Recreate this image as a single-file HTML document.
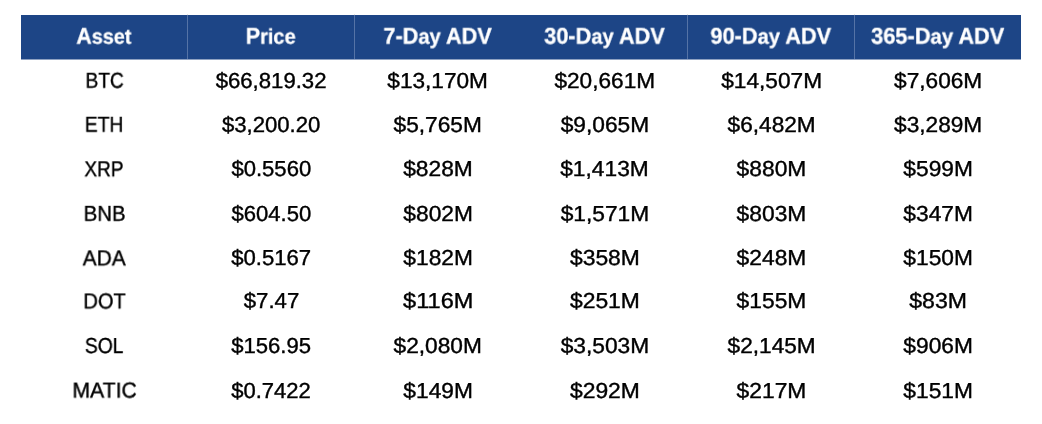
<!DOCTYPE html>
<html><head><meta charset="utf-8"><style>
html,body{margin:0;padding:0;background:#fff;width:1042px;height:424px;overflow:hidden;position:relative}
body{font-family:"Liberation Sans",sans-serif}
.hdr{position:absolute;left:21px;top:15px;width:1000px;height:44px;background:#1d4586;border-bottom:1px solid #8fa2c2}
.tl{position:absolute;left:21px;top:15px;width:1000px;height:1px;background:#1d4586}
.dv{position:absolute;top:15px;width:1px;height:44px;background:#5573a6}
.dt{position:absolute;top:14px;width:1px;height:1px;background:#e4e2df}
span{position:absolute;white-space:nowrap;line-height:1;transform-origin:50% 50%;display:block;text-rendering:geometricPrecision;will-change:transform}
.h{color:#fff;font-weight:bold;font-size:22.8px;-webkit-text-stroke:0.3px #fff}
em{font-style:normal;font-size:0.93em}
.c{color:#000;font-size:21.7px;-webkit-text-stroke:0.4px #000}
</style></head><body>
<div class="hdr"></div>
<div class="tl"></div>
<div class="dt" style="left:187px"></div><div class="dt" style="left:354px"></div><div class="dt" style="left:687px"></div><div class="dt" style="left:854px"></div>
<div class="dv" style="left:187px"></div>
<div class="dv" style="left:354px"></div>
<div class="dv" style="left:687px"></div>
<div class="dv" style="left:854px"></div>
<span class="h" style="left:103px;top:24px;transform:translate(calc(-50% + 0.873px),0.654px) scaleX(0.9361)">A<em>sset</em></span>
<span class="h" style="left:270px;top:24px;transform:translate(calc(-50% + 0.650px),0.654px) scaleX(0.9414)">P<em>rice</em></span>
<span class="h" style="left:437px;top:24px;transform:translate(calc(-50% + 0.567px),0.654px) scaleX(0.9512)">7-D<em>ay</em> ADV</span>
<span class="h" style="left:604px;top:24px;transform:translate(calc(-50% + 0.453px),0.654px) scaleX(0.9517)">30-D<em>ay</em> ADV</span>
<span class="h" style="left:770px;top:24px;transform:translate(calc(-50% + 0.740px),0.654px) scaleX(0.9530)">90-D<em>ay</em> ADV</span>
<span class="h" style="left:937px;top:24px;transform:translate(calc(-50% + 0.717px),0.654px) scaleX(0.9566)">365-D<em>ay</em> ADV</span>
<span class="c" style="left:104px;top:69px;transform:translate(calc(-50% + 0.623px),0.703px) scaleX(0.8792)">BTC</span>
<span class="c" style="left:271px;top:69px;transform:translate(calc(-50% + 0.080px),0.703px) scaleX(1.0213)">$66,819.32</span>
<span class="c" style="left:437px;top:69px;transform:translate(calc(-50% + 0.627px),0.703px) scaleX(1.0429)">$13,170M</span>
<span class="c" style="left:604px;top:69px;transform:translate(calc(-50% + 0.743px),0.703px) scaleX(1.0434)">$20,661M</span>
<span class="c" style="left:771px;top:69px;transform:translate(calc(-50% + 0.650px),0.703px) scaleX(1.0448)">$14,507M</span>
<span class="c" style="left:938px;top:69px;transform:translate(calc(-50% + 0.147px),0.703px) scaleX(1.0448)">$7,606M</span>
<span class="c" style="left:104px;top:113px;transform:translate(calc(-50% + 0.083px),0.713px) scaleX(0.8858)">ETH</span>
<span class="c" style="left:271px;top:113px;transform:translate(calc(-50% + 0.110px),0.713px) scaleX(1.0204)">$3,200.20</span>
<span class="c" style="left:437px;top:113px;transform:translate(calc(-50% + 0.687px),0.713px) scaleX(1.0467)">$5,765M</span>
<span class="c" style="left:604px;top:113px;transform:translate(calc(-50% + 0.903px),0.713px) scaleX(1.0490)">$9,065M</span>
<span class="c" style="left:771px;top:113px;transform:translate(calc(-50% + 0.620px),0.713px) scaleX(1.0425)">$6,482M</span>
<span class="c" style="left:938px;top:113px;transform:translate(calc(-50% + 0.147px),0.713px) scaleX(1.0448)">$3,289M</span>
<span class="c" style="left:103px;top:158px;transform:translate(calc(-50% + 0.883px),0.254px) scaleX(0.8742)">XRP</span>
<span class="c" style="left:271px;top:158px;transform:translate(calc(-50% + 0.300px),0.254px) scaleX(1.0179)">$0.5560</span>
<span class="c" style="left:437px;top:158px;transform:translate(calc(-50% + 0.997px),0.254px) scaleX(1.0503)">$828M</span>
<span class="c" style="left:604px;top:158px;transform:translate(calc(-50% + 0.473px),0.254px) scaleX(1.0487)">$1,413M</span>
<span class="c" style="left:771px;top:158px;transform:translate(calc(-50% + 0.470px),0.254px) scaleX(1.0510)">$880M</span>
<span class="c" style="left:938px;top:158px;transform:translate(calc(-50% + 0.117px),0.254px) scaleX(1.0487)">$599M</span>
<span class="c" style="left:104px;top:202px;transform:translate(calc(-50% + 0.553px),0.803px) scaleX(0.9359)">BNB</span>
<span class="c" style="left:271px;top:202px;transform:translate(calc(-50% + 0.300px),0.803px) scaleX(1.0179)">$604.50</span>
<span class="c" style="left:438px;top:202px;transform:translate(calc(-50% + 0.117px),0.803px) scaleX(1.0487)">$802M</span>
<span class="c" style="left:604px;top:202px;transform:translate(calc(-50% + 0.903px),0.803px) scaleX(1.0490)">$1,571M</span>
<span class="c" style="left:771px;top:202px;transform:translate(calc(-50% + 0.470px),0.803px) scaleX(1.0510)">$803M</span>
<span class="c" style="left:938px;top:202px;transform:translate(calc(-50% + 0.117px),0.803px) scaleX(1.0487)">$347M</span>
<span class="c" style="left:104px;top:247px;transform:translate(calc(-50% + 0.163px),0.344px) scaleX(0.9626)">ADA</span>
<span class="c" style="left:271px;top:247px;transform:translate(calc(-50% + 0.180px),0.344px) scaleX(1.0201)">$0.5167</span>
<span class="c" style="left:438px;top:247px;transform:translate(calc(-50% + 0.117px),0.344px) scaleX(1.0487)">$182M</span>
<span class="c" style="left:604px;top:247px;transform:translate(calc(-50% + 0.913px),0.344px) scaleX(1.0546)">$358M</span>
<span class="c" style="left:771px;top:247px;transform:translate(calc(-50% + 0.470px),0.344px) scaleX(1.0510)">$248M</span>
<span class="c" style="left:938px;top:247px;transform:translate(calc(-50% + 0.117px),0.344px) scaleX(1.0487)">$150M</span>
<span class="c" style="left:104px;top:290px;transform:translate(calc(-50% + 0.533px),0.404px) scaleX(0.9219)">DOT</span>
<span class="c" style="left:271px;top:290px;transform:translate(calc(-50% + 0.510px),0.404px) scaleX(1.0215)">$7.47</span>
<span class="c" style="left:438px;top:290px;transform:translate(calc(-50% + 0.217px),0.404px) scaleX(1.0848)">$116M</span>
<span class="c" style="left:604px;top:290px;transform:translate(calc(-50% + 0.913px),0.404px) scaleX(1.0546)">$251M</span>
<span class="c" style="left:771px;top:290px;transform:translate(calc(-50% + 0.470px),0.404px) scaleX(1.0510)">$155M</span>
<span class="c" style="left:938px;top:290px;transform:translate(calc(-50% + 0.097px),0.404px) scaleX(1.0638)">$83M</span>
<span class="c" style="left:104px;top:334px;transform:translate(calc(-50% + 0.143px),0.943px) scaleX(0.8892)">SOL</span>
<span class="c" style="left:271px;top:334px;transform:translate(calc(-50% + 0.130px),0.943px) scaleX(1.0183)">$156.95</span>
<span class="c" style="left:437px;top:334px;transform:translate(calc(-50% + 0.687px),0.943px) scaleX(1.0467)">$2,080M</span>
<span class="c" style="left:604px;top:334px;transform:translate(calc(-50% + 0.903px),0.943px) scaleX(1.0490)">$3,503M</span>
<span class="c" style="left:771px;top:334px;transform:translate(calc(-50% + 0.620px),0.943px) scaleX(1.0425)">$2,145M</span>
<span class="c" style="left:938px;top:334px;transform:translate(calc(-50% + 0.117px),0.943px) scaleX(1.0487)">$906M</span>
<span class="c" style="left:104px;top:379px;transform:translate(calc(-50% + 0.593px),0.514px) scaleX(0.9764)">MATIC</span>
<span class="c" style="left:270px;top:379px;transform:translate(calc(-50% + 0.990px),0.514px) scaleX(1.0150)">$0.7422</span>
<span class="c" style="left:438px;top:379px;transform:translate(calc(-50% + 0.117px),0.514px) scaleX(1.0487)">$149M</span>
<span class="c" style="left:604px;top:379px;transform:translate(calc(-50% + 0.913px),0.514px) scaleX(1.0546)">$292M</span>
<span class="c" style="left:771px;top:379px;transform:translate(calc(-50% + 0.470px),0.514px) scaleX(1.0510)">$217M</span>
<span class="c" style="left:938px;top:379px;transform:translate(calc(-50% + 0.117px),0.514px) scaleX(1.0487)">$151M</span>
</body></html>
